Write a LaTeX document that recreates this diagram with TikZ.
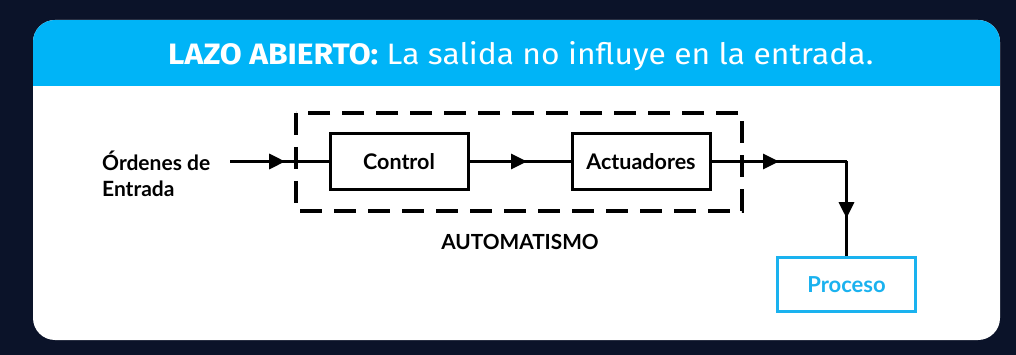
\documentclass[tikz,border=0pt]{standalone}
\usepackage{fontspec}
\setmainfont{Lato}
\newfontfamily\titlefont{Fira Sans}
\usetikzlibrary{arrows.meta,decorations.markings}
\definecolor{navy}{HTML}{0B1329}
\definecolor{hdrblue}{HTML}{00B4F7}
\definecolor{procblue}{HTML}{1AB2EF}
\begin{document}
\begin{tikzpicture}[x=1pt,y=-1pt,
  blockbox/.style={draw=black, line width=3pt, minimum width=138pt, minimum height=56pt, font=\fontsize{21.5}{24}\selectfont\bfseries, inner sep=0pt},
  conn/.style={line width=3pt, draw=black},
  midarrow/.style={postaction={decorate}, decoration={markings, mark=at position #1 with {\arrow{Triangle[length=16pt,width=15pt]}}}}
]
\useasboundingbox (0,0) rectangle (1016,355);
\fill[navy] (0,0) rectangle (1016,355);
\fill[white, rounded corners=22pt] (33,20) rectangle (1000,340);
\begin{scope}
  \clip[rounded corners=22pt] (33,20) rectangle (1000,340);
  \fill[hdrblue] (33,20) rectangle (1000,86);
\end{scope}
\node[text=white, inner sep=0pt, anchor=base west] (title) at (168,65) {\resizebox{705pt}{23pt}{\titlefont\textbf{LAZO ABIERTO:} La salida no influye en la entrada.}};

% dashed automatism box
\draw[line width=3.5pt, dash pattern=on 22pt off 12pt, line join=miter] (296,113) rectangle (742,211);
\node[font=\fontsize{20.8}{24}\selectfont\bfseries, inner sep=0pt] (auto) at (520,242) {AUTOMATISMO};

\node[blockbox] (control) at (399,161.5) {Control};
\node[blockbox] (act) at (641,161.5) {Actuadores};
\node[draw=procblue, text=procblue, line width=3pt, minimum width=138pt, minimum height=54pt, font=\fontsize{22}{24}\selectfont\bfseries, inner sep=0pt] (proc) at (846.5,284.5) {Proceso};

\node[anchor=west, align=left, font=\fontsize{21}{26}\selectfont\bfseries, inner sep=0pt] (input) at (102,174) {Órdenes de\\Entrada};

\coordinate (in) at (230,161.5);
\coordinate (corner) at (846.5,161.5);

\draw[conn, midarrow=0.56] (in) -- (control.west);
\draw[conn, midarrow=0.57] (control.east) -- (act.west);
\draw[conn, midarrow=0.5] (act.east) -- (corner);
\draw[conn, midarrow=0.6] (corner) -- (proc.north);
\end{tikzpicture}
\end{document}
